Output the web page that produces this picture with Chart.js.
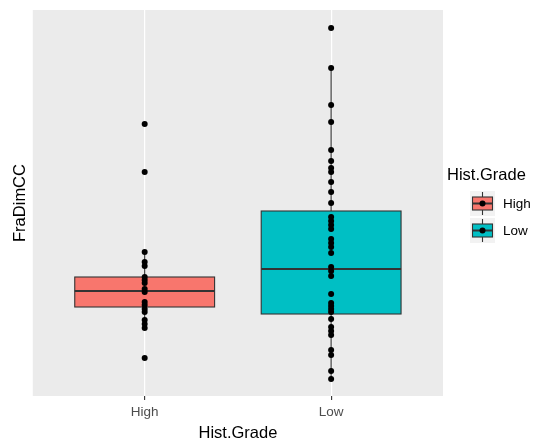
<!DOCTYPE html>
<html>
<head>
<meta charset="utf-8">
<script src="https://cdn.jsdelivr.net/npm/chart.js@4.4.1/dist/chart.umd.min.js"></script>
<style>
  html, body { margin: 0; padding: 0; background: #fff; }
  #chart { display: block; }
</style>
</head>
<body>
<canvas id="chart" width="553" height="442"></canvas>
<script>
// categories and raw points (FraDimCC)
const categories = ['High', 'Low'];
const highValues = [2.76, 2.28, 1.48, 1.38, 1.34, 1.23, 1.20, 1.17, 1.11, 1.08, 0.98, 0.95, 0.91, 0.88, 0.80, 0.76, 0.72, 0.42];
const lowValues = [3.72, 3.32, 2.95, 2.78, 2.50, 2.39, 2.32, 2.28, 2.18, 2.08, 1.97, 1.83, 1.79, 1.75, 1.71, 1.61, 1.57, 1.53, 1.47,
  1.33, 1.29, 1.24, 1.06, 0.97, 0.94, 0.91, 0.88, 0.81, 0.73, 0.69, 0.65, 0.50, 0.45, 0.29, 0.21];

// box statistics, one entry per category
const whiskerHigh = [1.48, 3.32];
const q3 = [1.23, 1.89];
const medians = [1.09, 1.31];
const q1 = [0.93, 0.86];
const whiskerLow = [0.72, 0.21];

const fills = ['#F8766D', '#00BFC4'];
const FONT = '"Liberation Sans", Arial, sans-serif';

const boxPlugin = {
    id: 'boxes',
    beforeDraw(chart) {
        const { ctx, chartArea: a } = chart;
        ctx.save();
        ctx.fillStyle = '#EBEBEB';
        ctx.fillRect(a.left, a.top, a.right - a.left, a.bottom - a.top);
        ctx.restore();
    },
    beforeDatasetsDraw(chart) {
        const { ctx, scales: { x, y } } = chart;
        ctx.save();
        categories.forEach((c, i) => {
            const cx = x.getPixelForValue(i + 1);
            const left = x.getPixelForValue(i + 1 - 0.375);
            const right = x.getPixelForValue(i + 1 + 0.375);
            const top = y.getPixelForValue(q3[i]);
            const bottom = y.getPixelForValue(q1[i]);
            ctx.strokeStyle = '#333333';
            ctx.lineWidth = 1.1;
            ctx.beginPath();
            ctx.moveTo(cx, y.getPixelForValue(whiskerHigh[i]));
            ctx.lineTo(cx, top);
            ctx.moveTo(cx, bottom);
            ctx.lineTo(cx, y.getPixelForValue(whiskerLow[i]));
            ctx.stroke();
            ctx.fillStyle = fills[i];
            ctx.fillRect(left, top, right - left, bottom - top);
            ctx.strokeRect(left, top, right - left, bottom - top);
            ctx.lineWidth = 2.2;
            ctx.beginPath();
            const m = y.getPixelForValue(medians[i]);
            ctx.moveTo(left, m);
            ctx.lineTo(right, m);
            ctx.stroke();
        });
        ctx.restore();
    },
    afterDraw(chart) {
        const { ctx } = chart;
        ctx.save();
        ctx.fillStyle = '#000';
        ctx.textBaseline = 'middle';
        ctx.font = '16.5px ' + FONT;
        ctx.fillText('Hist.Grade', 447, 175);
        categories.forEach((c, i) => {
            const kx = 470, ky = 191 + i * 27, ks = 25;
            ctx.fillStyle = '#F2F2F2';
            ctx.fillRect(kx, ky, ks, ks);
            ctx.strokeStyle = '#333333';
            ctx.lineWidth = 1.1;
            ctx.beginPath();
            ctx.moveTo(kx + ks / 2, ky + 1);
            ctx.lineTo(kx + ks / 2, ky + ks - 1);
            ctx.stroke();
            ctx.fillStyle = fills[i];
            ctx.fillRect(kx + 2.5, ky + 6, ks - 5, ks - 12);
            ctx.strokeRect(kx + 2.5, ky + 6, ks - 5, ks - 12);
            ctx.lineWidth = 2;
            ctx.beginPath();
            ctx.moveTo(kx + 2.5, ky + ks / 2);
            ctx.lineTo(kx + ks - 2.5, ky + ks / 2);
            ctx.stroke();
            ctx.fillStyle = '#000';
            ctx.beginPath();
            ctx.arc(kx + ks / 2, ky + ks / 2, 3, 0, Math.PI * 2);
            ctx.fill();
            ctx.font = '13.5px ' + FONT;
            ctx.fillText(c, 503, ky + ks / 2 + 1);
        });
        ctx.restore();
    }
};

new Chart(document.getElementById('chart'), {
    type: 'scatter',
    data: {
        datasets: [
            { label: 'High', data: highValues.map(v => ({ x: 1, y: v })) },
            { label: 'Low', data: lowValues.map(v => ({ x: 2, y: v })) }
        ]
    },
    options: {
        responsive: false,
        animation: false,
        layout: { padding: { left: 5, top: 10, right: 110, bottom: -1 } },
        elements: {
            point: { radius: 3, backgroundColor: '#000', borderWidth: 0, hoverRadius: 3 }
        },
        plugins: { legend: { display: false }, tooltip: { enabled: false } },
        scales: {
            x: {
                type: 'linear',
                min: 0.4,
                max: 2.6,
                afterBuildTicks: axis => { axis.ticks = [{ value: 1 }, { value: 2 }]; },
                ticks: {
                    callback: v => categories[v - 1],
                    color: '#4D4D4D',
                    font: { family: FONT, size: 13.5 },
                    padding: 4
                },
                grid: { color: '#FFFFFF', lineWidth: 1.2, tickColor: '#333333', tickLength: 4, tickWidth: 1.1 },
                border: { display: false },
                title: { display: true, text: 'Hist.Grade', color: '#000', font: { family: FONT, size: 16.5 }, padding: { top: -1, bottom: 0 } }
            },
            y: {
                min: 0.04,
                max: 3.90,
                ticks: { display: false },
                grid: { display: false, drawTicks: false },
                border: { display: false },
                title: { display: true, text: 'FraDimCC', color: '#000', font: { family: FONT, size: 16.5 }, padding: { top: 6, bottom: 2 } }
            }
        }
    },
    plugins: [boxPlugin]
});
</script>
</body>
</html>
